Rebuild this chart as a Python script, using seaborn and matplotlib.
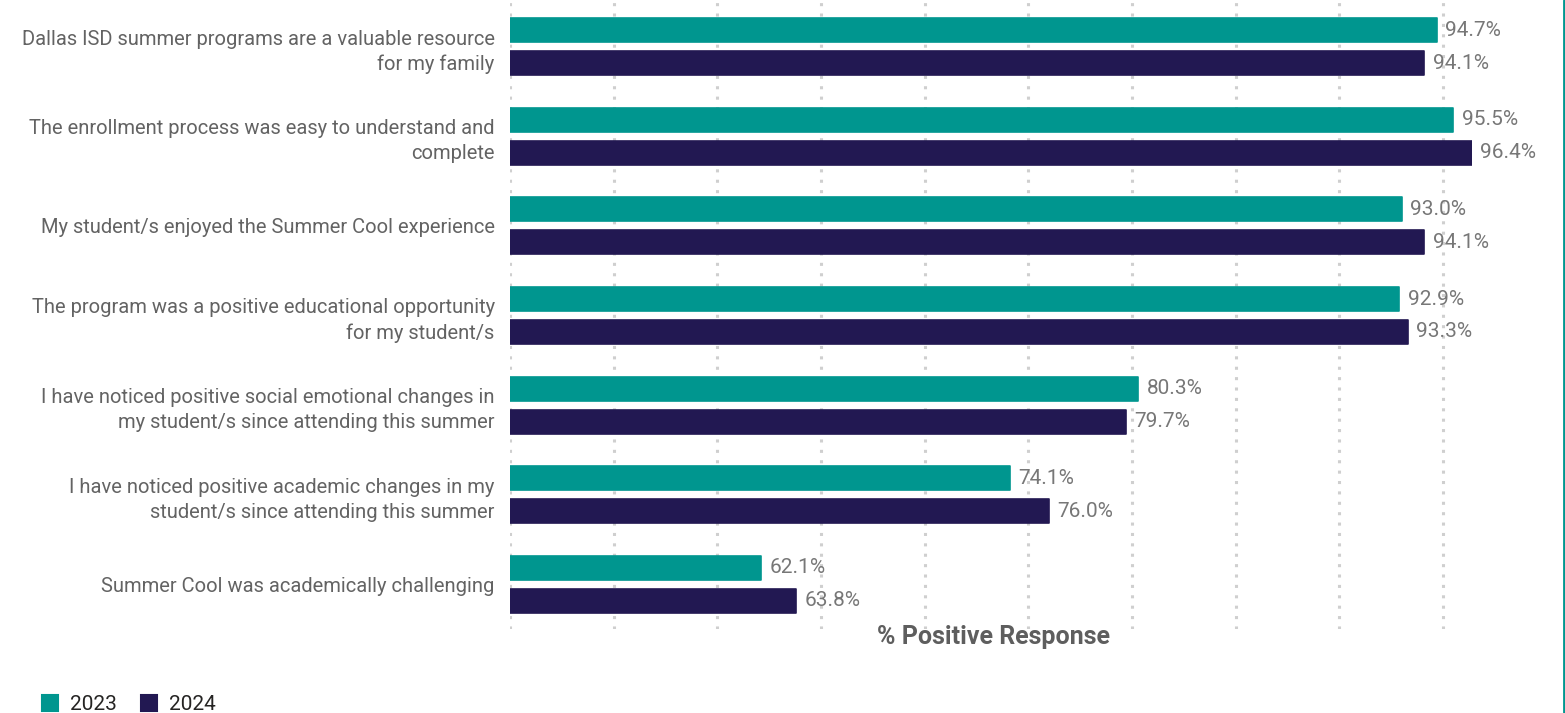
import matplotlib
matplotlib.use("Agg")
import matplotlib.pyplot as plt
from matplotlib.lines import Line2D
import seaborn as sns
import pandas as pd

# Survey statements (wrapped as they appear on the axis)
statements = [
    "Dallas ISD summer programs are a valuable resource\nfor my family",
    "The enrollment process was easy to understand and\ncomplete",
    "My student/s enjoyed the Summer Cool experience",
    "The program was a positive educational opportunity\nfor my student/s",
    "I have noticed positive social emotional changes in\nmy student/s since attending this summer",
    "I have noticed positive academic changes in my\nstudent/s since attending this summer",
    "Summer Cool was academically challenging",
]
years = ["2023", "2024"]
pct_2023 = [94.7, 95.5, 93.0, 92.9, 80.3, 74.1, 62.1]
pct_2024 = [94.1, 96.4, 94.1, 93.3, 79.7, 76.0, 63.8]
grid_ticks = [50, 55, 60, 65, 70, 75, 80, 85, 90, 95]

colors = {"2023": "#00968f", "2024": "#221852"}

df = pd.DataFrame({
    "Statement": statements * 2,
    "Year": [years[0]] * len(statements) + [years[1]] * len(statements),
    "Pct": pct_2023 + pct_2024,
})

sns.set_theme(style="white")
plt.rcParams["font.family"] = ["Roboto", "DejaVu Sans"]

fig = plt.figure(figsize=(15.65, 7.13), dpi=100)
ax = fig.add_axes([510 / 1565, 1 - 629 / 713, (1472 - 510) / 1565, 627 / 713])

sns.barplot(
    data=df, y="Statement", x="Pct", hue="Year", hue_order=years,
    order=statements, palette=colors, orient="h", width=0.736, gap=0.27,
    saturation=1, ax=ax, legend=False,
)

# slightly rounded bar ends
for cont in ax.containers:
    for p in cont.patches:
        p.set_edgecolor(p.get_facecolor())
        p.set_linewidth(1.2)
        p.set_joinstyle("round")

for cont in ax.containers:
    ax.bar_label(cont, fmt="%.1f%%", padding=6, color="#777777", fontsize=15)

ax.set_xlim(50, 96.4)
ax.set_ylim(len(statements) - 0.5, -0.5)
ax.set_xticks(grid_ticks)
ax.set_xticklabels([])
ax.tick_params(axis="x", length=0)
ax.tick_params(axis="y", length=0, pad=11, labelsize=14.5, labelcolor="#636363")
for lbl in ax.get_yticklabels():
    lbl.set_linespacing(1.4)
    lbl.set_horizontalalignment("right")
ax.set_ylabel("")
ax.set_xlabel("")
ax.grid(axis="x", color="#cfcfcf", linewidth=2.2, linestyle=(0, (1, 2.4)))
ax.set_axisbelow(True)
for s in ax.spines.values():
    s.set_visible(False)

fig.text(993 / 1565, 1 - 637 / 713, "% Positive Response", ha="center", va="center",
         fontsize=18, fontweight="bold", color="#5e5e5e")

handles = [
    Line2D([], [], marker="s", linestyle="", markersize=11, markerfacecolor=colors[y],
           markeredgecolor=colors[y], markeredgewidth=1.5) for y in years
]
fig.legend(handles, years, loc="lower left", bbox_to_anchor=(21 / 1565, -0.028),
           ncol=2, frameon=False, fontsize=15, handletextpad=0.45, columnspacing=1.05,
           handlelength=1.0, labelcolor="#252423")

# right-hand accent border
fig.add_artist(Line2D([1563.5 / 1565, 1563.5 / 1565], [0, 1], color="#00968f",
                      linewidth=2, transform=fig.transFigure))

fig.savefig("out.png", dpi=100)
